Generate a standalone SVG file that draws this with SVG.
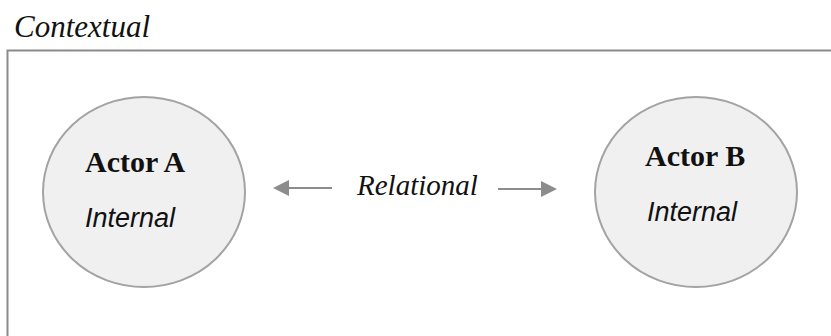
<svg xmlns="http://www.w3.org/2000/svg" width="831" height="336" viewBox="0 0 831 336">
<style>
.title{font-family:"Liberation Serif","Times New Roman",serif;font-style:italic;font-size:29px;fill:#111}
.big{font-size:31px}
.actor{font-family:"Liberation Serif","Times New Roman",serif;font-weight:bold;font-size:30px;fill:#111}
.internal{font-family:"Liberation Sans",Arial,sans-serif;font-style:italic;font-size:27px;fill:#111}
.node{fill:#f0f0f0;stroke:#a3a3a3;stroke-width:2}
.conn{stroke:#8c8c8c;stroke-width:2;fill:none}
</style>
<defs>
<marker id="ah" viewBox="0 0 16 16" refX="14" refY="8" markerWidth="16" markerHeight="16" markerUnits="userSpaceOnUse" orient="auto">
<path d="M0,0 L16,8 L0,16 z" fill="#8c8c8c"/>
</marker>
</defs>
<rect width="831" height="336" fill="#fff"/>
<g id="context">
<path d="M7.5,340 V50.5 H835" fill="none" stroke="#8a8a8a" stroke-width="2"/>
<text class="title big" x="14" y="37">Contextual</text>
</g>
<g id="actorA">
<ellipse class="node" cx="144" cy="192" rx="101" ry="95"/>
<text class="actor" x="85" y="172">Actor A</text>
<text class="internal" x="85" y="227">Internal</text>
</g>
<g id="actorB">
<ellipse class="node" cx="696" cy="192" rx="101" ry="95"/>
<text class="actor" x="645" y="166">Actor B</text>
<text class="internal" x="647" y="221">Internal</text>
</g>
<g id="connectors">
<line class="conn" x1="332" y1="188" x2="275" y2="188" marker-end="url(#ah)"/>
<line class="conn" x1="498" y1="189" x2="555" y2="189" marker-end="url(#ah)"/>
<text class="title" x="357" y="195">Relational</text>
</g>
</svg>
